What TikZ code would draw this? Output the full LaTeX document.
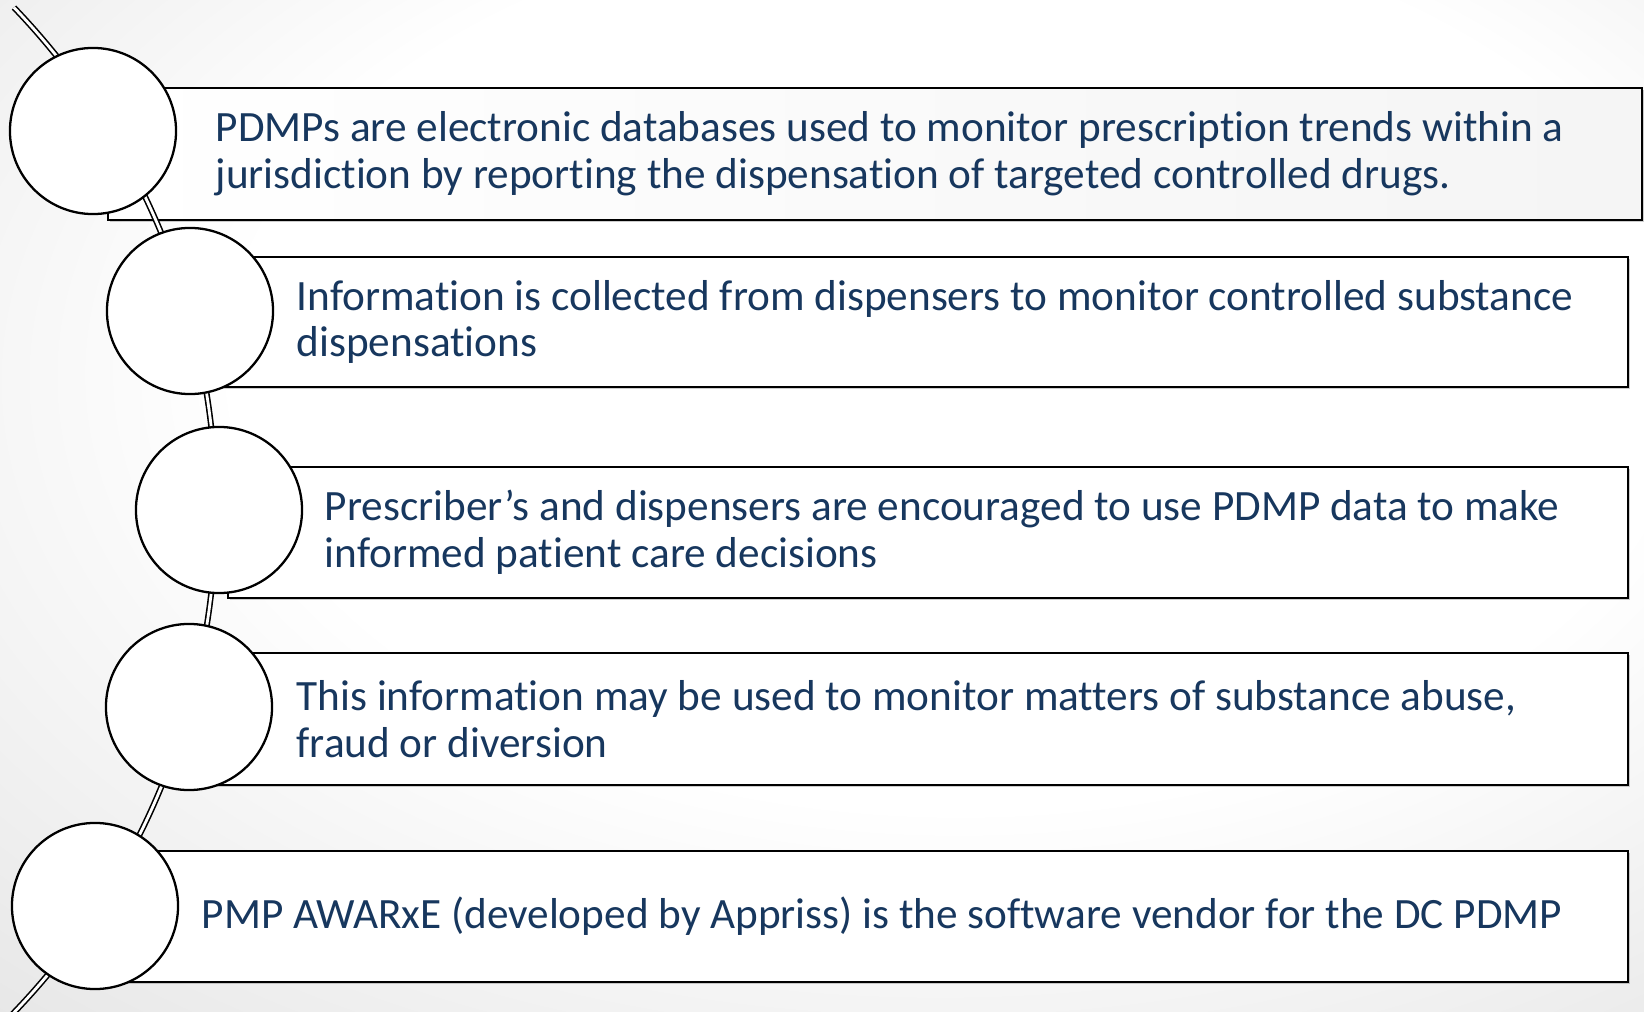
\documentclass[tikz,border=0pt]{standalone}
\usepackage{fontspec}
\setmainfont{Carlito}[RawFeature=-liga]
\usetikzlibrary{positioning,fit,shadows}
\definecolor{inkblue}{HTML}{17375E}
\pgfdeclareradialshading{pageglow}{\pgfpoint{6bp}{10bp}}{color(0bp)=(white); color(22bp)=(white); color(50bp)=(black!14); color(75bp)=(black!22)}

\begin{document}
\begin{tikzpicture}[x=0.01cm, y=-0.01cm,
    card/.style={draw, line width=0.75pt, fill=white, inner sep=0pt,
      drop shadow={shadow xshift=0.6pt, shadow yshift=-0.6pt, opacity=0.4}},
    ring/.style={draw, circle, line width=0.65pt, fill=white, inner sep=0pt,
      minimum size=1.66cm},
    note/.style={anchor=west, align=left, inner sep=0pt, text=inkblue,
      font=\fontsize{12.3}{13.3}\selectfont},
    spine/.style={draw=black, double=white, line width=0.45pt, double distance=0.8pt}]
  \useasboundingbox (0,0) rectangle (1644,1012);
  \shade[shading=pageglow] (0,0) rectangle (1644,1012);
  \clip (0,0) rectangle (1644,1012);

  % the five cards
  \node[card, left color=white, right color=black!4, fit={(108,88) (1642,220)}] (box1) {};
  \node[card, fit={(200,257) (1628,387)}] (box2) {};
  \node[card, fit={(228,467) (1628,598)}] (box3) {};
  \node[card, fit={(200,653) (1628,785)}] (box4) {};
  \node[card, fit={(108,851) (1628,982)}] (box5) {};

  % curved spine behind the rings
  \draw[spine] (-510,510) ++(-43.8:726) arc[start angle=-43.8, end angle=46, radius=726];

  \node[ring] (ring1) at (93,131) {};
  \node[ring] (ring2) at (190,311) {};
  \node[ring] (ring3) at (219,510) {};
  \node[ring] (ring4) at (189,707) {};
  \node[ring] (ring5) at (95,906) {};

  \node[note] (txt1) at (215,154) {PDMPs are electronic databases used to monitor prescription trends within a\\
    jurisdiction by reporting the dispensation of targeted controlled drugs.};
  \node[note] (txt2) at (296,322) {Information is collected from dispensers to monitor controlled substance\\
    dispensations};
  \node[note] (txt3) at (324,532) {Prescriber’s and dispensers are encouraged to use PDMP data to make\\
    informed patient care decisions};
  \node[note] (txt4) at (296,719) {This information may be used to monitor matters of substance abuse,\\
    fraud or diversion};
  \node[note] (txt5) at (201,916) {PMP AWARxE (developed by Appriss) is the software vendor for the DC PDMP};
\end{tikzpicture}
\end{document}
